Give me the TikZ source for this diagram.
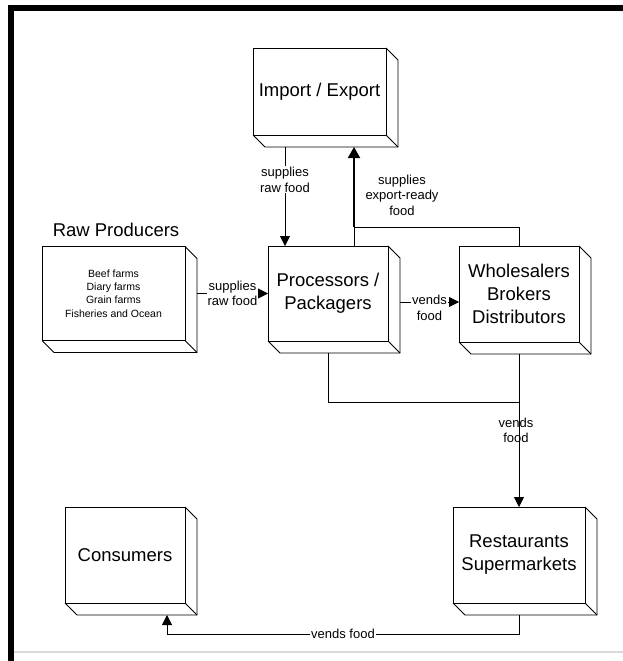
\documentclass[tikz,border=0pt]{standalone}
\usepackage{fontspec}
\setmainfont{Liberation Sans}
\usetikzlibrary{arrows.meta}
\definecolor{grisMarco}{HTML}{D9D9D9}

\begin{document}
\begin{tikzpicture}[x=1pt, y=-1pt,
    caja/.style={draw, line width=0.9pt, fill=white, minimum width=120pt, minimum height=96pt, inner sep=2pt, outer sep=0pt, align=center, font=\fontsize{18.5}{23}\selectfont},
    titulo/.style={font=\fontsize{18.5}{23}\selectfont},
    etiq/.style={font=\fontsize{13}{15.5}\selectfont, align=center, inner sep=1pt},
    linea/.style={line width=0.8pt},
    flecha/.style={line width=0.8pt, -{Triangle[length=10pt,width=10pt]}}
  ]
  \useasboundingbox (0,0) rectangle (623,661);
  % marco
  \draw[line width=5.5pt] (10.8,661) -- (10.8,8) -- (623,8);
  \draw[grisMarco, line width=1.2pt] (13.5,652) -- (623,652);

  % cajas
  \node[caja, minimum width=133pt, minimum height=87pt] (imp) at (319.5,91.5) {Import / Export};
  \node[titulo] (traw) at (116,230) {Raw Producers};
  \node[caja, minimum width=143pt, minimum height=94pt, font=\fontsize{10.5}{13.3}\selectfont] (raw) at (113.5,293.5) {Beef farms\\Diary farms\\Grain farms\\Fisheries and Ocean};
  \node[caja, minimum height=95pt] (proc) at (328,293.5) {Processors /\\Packagers};
  \node[caja] (whol) at (519,294) {Wholesalers\\Brokers\\Distributors};
  \node[caja, minimum width=132pt] (rest) at (519,555) {Restaurants\\Supermarkets};
  \node[caja] (cons) at (125,555) {Consumers};

  % caras laterales
  \foreach \n in {imp,raw,proc,whol,rest,cons}{
    \draw[linea] (\n.north east) -- ([shift={(12,12)}]\n.north east) -- ([shift={(12,12)}]\n.south east) -- ([shift={(12,12)}]\n.south west) -- (\n.south west);
    \draw[linea] (\n.south east) -- ([shift={(12,12)}]\n.south east);
  }

  % importacion y procesadores
  \draw[flecha] ([shift={(-34.5,12)}]imp.south) -- node[etiq, fill=white, pos=0.33] (lsum1) {supplies\\raw food} ([shift={(-43,0)}]proc.north);
  \coordinate (junta) at (354,227);
  \draw[linea] ([shift={(26,0)}]proc.north) -- (junta);
  \draw[linea] (whol.north) |- (junta);
  \draw[flecha, line width=1.8pt, -{Triangle[length=11pt,width=12pt]}] (junta) -- ([shift={(34.5,12)}]imp.south);
  \node[etiq] (lexp) at (402,195) {supplies\\export-ready\\food};

  % productores
  \draw[flecha] ([shift={(12,0)}]raw.east) -- node[etiq, fill=white] (lsum2) {supplies\\raw food} (proc.west);

  % procesadores a mayoristas
  \draw[flecha] ([shift={(12,8.5)}]proc.east) -- node[etiq, fill=white, yshift=-6pt] (lven1) {vends\\food} ([shift={(0,8)}]whol.west);

  % hacia restaurantes
  \coordinate (union) at (519,402);
  \draw[linea] ([shift={(0,12)}]proc.south) |- (union);
  \draw[flecha] ([shift={(0,12)}]whol.south) -- node[etiq, xshift=-3pt] (lven2) {vends\\food} (rest.north);

  % hacia consumidores
  \draw[flecha] ([shift={(0,12)}]rest.south) -- ++(0,19) -| node[etiq, fill=white, pos=0.25] (lven3) {vends food} ([shift={(42,12)}]cons.south);
\end{tikzpicture}
\end{document}
